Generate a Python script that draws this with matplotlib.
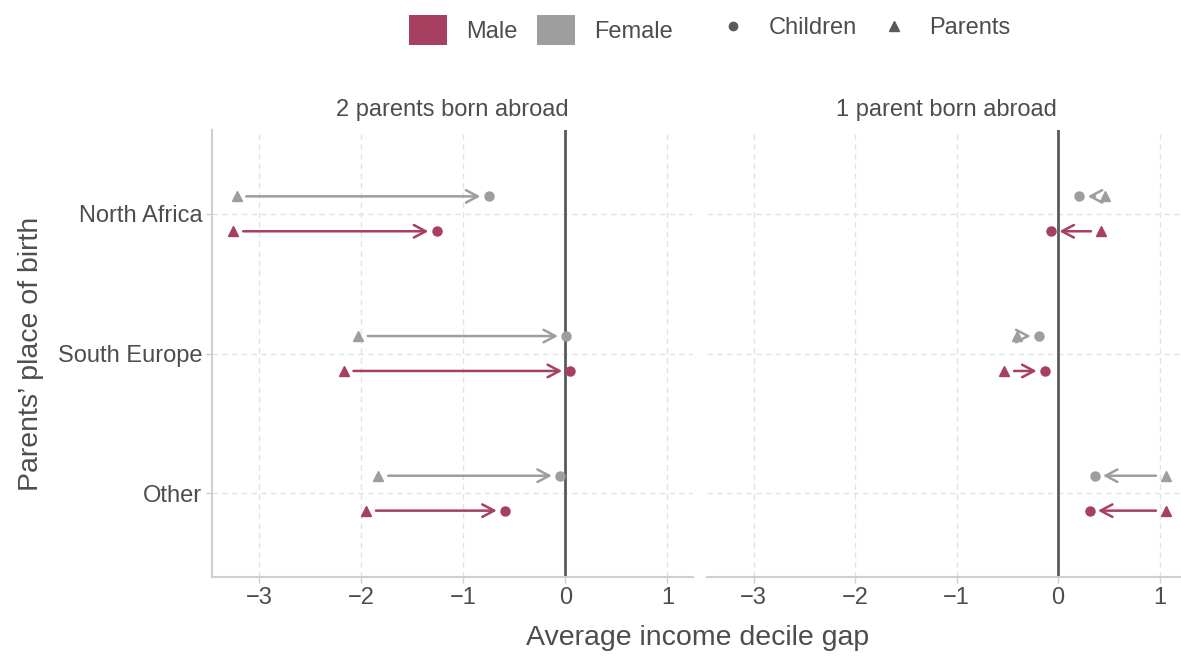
import matplotlib
matplotlib.use("Agg")
import matplotlib.pyplot as plt
from matplotlib.patches import Patch
from matplotlib.lines import Line2D

plt.rcParams['font.family'] = ['Liberation Sans', 'DejaVu Sans']

# data
regions = ["North Africa", "South Europe", "Other"]
panels = ["2 parents born abroad", "1 parent born abroad"]

# average income decile gap, per panel, per region
parents_male = [[-3.25, -2.17, -1.95], [0.42, -0.53, 1.06]]
children_male = [[-1.26, 0.05, -0.59], [-0.07, -0.13, 0.31]]
parents_female = [[-3.22, -2.03, -1.83], [0.46, -0.41, 1.06]]
children_female = [[-0.75, 0.01, -0.05], [0.21, -0.19, 0.36]]

male_col = "#A63F60"
female_col = "#9E9E9E"
text_col = "#4D4D4D"

fig = plt.figure(figsize=(11.81, 6.57), dpi=100)
W, H = 1181, 657
ax1 = fig.add_axes([212 / W, 1 - 577 / H, 481 / W, 447 / H])
ax2 = fig.add_axes([707 / W, 1 - 577 / H, 478 / W, 447 / H], sharey=ax1)

offset = 0.125

for p, ax in enumerate([ax1, ax2]):
    ax.set_xlim(-3.46, 1.25)
    ax.set_ylim(3.6, 0.4)
    ax.set_xticks([-3, -2, -1, 0, 1])
    ax.set_xticklabels(["\u22123", "\u22122", "\u22121", "0", "1"])
    ax.set_yticks([1, 2, 3])
    ax.grid(True, color="#E3E3E3", linestyle=(0, (4, 3)), linewidth=1)
    ax.set_axisbelow(True)
    ax.axvline(0, color="#5A5A5A", linewidth=2, zorder=1)

    for i in range(len(regions)):
        y = i + 1
        for parents, children, col, dy in [
            (parents_female, children_female, female_col, -offset),
            (parents_male, children_male, male_col, offset),
        ]:
            px, cx = parents[p][i], children[p][i]
            ax.annotate("", xy=(cx, y + dy), xytext=(px, y + dy),
                        arrowprops=dict(arrowstyle="->,head_length=0.85,head_width=0.45",
                                        color=col, lw=1.8, shrinkA=7, shrinkB=6))
            ax.plot(px, y + dy, marker="^", color=col, markersize=7.5, linestyle="none")
            ax.plot(cx, y + dy, marker="o", color=col, markersize=6.5, linestyle="none")

    ax.set_title(panels[p], fontsize=17, color=text_col, pad=10)
    for s in ["top", "right"]:
        ax.spines[s].set_visible(False)
    ax.spines["bottom"].set_color("#CFCFCF")
    ax.spines["bottom"].set_linewidth(1.5)
    ax.tick_params(axis="x", colors="#CFCFCF", labelcolor=text_col, labelsize=17,
                   length=4, width=1, pad=3)

ax1.spines["left"].set_color("#CFCFCF")
ax1.spines["left"].set_linewidth(1.5)
ax1.set_yticklabels(regions)
ax1.tick_params(axis="y", colors="#CFCFCF", labelcolor=text_col, labelsize=17,
                length=4, width=1, pad=3)
ax2.spines["left"].set_visible(False)
ax2.tick_params(axis="y", left=False, labelleft=False)

ax1.set_ylabel("Parents\u2019 place of birth", fontsize=20.5, color=text_col, labelpad=10)
fig.text(698 / W, 1 - 638 / H, "Average income decile gap", fontsize=20.5,
         color=text_col, ha="center", va="center")

# legends
col_handles = [Patch(facecolor=male_col, edgecolor="none"),
               Patch(facecolor=female_col, edgecolor="none")]
leg1 = fig.legend(col_handles, ["Male", "Female"], loc="center",
                  bbox_to_anchor=(541 / W, 1 - 30 / H), ncol=2, frameon=False,
                  fontsize=17, handlelength=1.6, handleheight=1.6,
                  handletextpad=0.8, columnspacing=0.85, labelcolor=text_col,
                  borderpad=0, borderaxespad=0)
shape_handles = [Line2D([], [], marker="o", color="#5A5A5A", linestyle="none", markersize=6),
                 Line2D([], [], marker="^", color="#5A5A5A", linestyle="none", markersize=7)]
leg2 = fig.legend(shape_handles, ["Children", "Parents"], loc="center",
                  bbox_to_anchor=(866 / W, 1 - 28 / H), ncol=2, frameon=False,
                  fontsize=17, handlelength=1.0, handletextpad=1.0, columnspacing=1.05,
                  labelcolor=text_col, borderpad=0, borderaxespad=0)

fig.savefig("out.png", dpi=100)
